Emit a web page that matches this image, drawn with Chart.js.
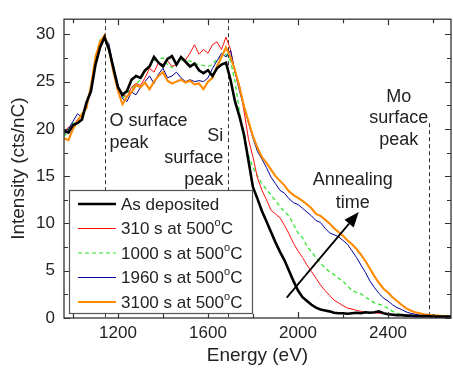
<!DOCTYPE html>
<html>
<head>
<meta charset="utf-8">
<script src="https://cdn.jsdelivr.net/npm/chart.js@4.4.1/dist/chart.umd.min.js"></script>
<style>
  html, body { margin: 0; padding: 0; background: #fff; }
  #wrap { width: 453px; height: 370px; }
</style>
</head>
<body>
<div id="wrap"><canvas id="chart" width="453" height="370"></canvas></div>
<script>
// Energy grid (eV)
const energy = [
  960, 980, 1000, 1020, 1040, 1060, 1080, 1100, 1120, 1140,
  1160, 1180, 1200, 1220, 1240, 1260, 1280, 1300, 1320, 1340,
  1360, 1380, 1400, 1420, 1440, 1460, 1480, 1500, 1520, 1540,
  1560, 1580, 1600, 1620, 1640, 1660, 1680, 1700, 1720, 1740,
  1760, 1780, 1800, 1820, 1840, 1860, 1880, 1900, 1920, 1940,
  1960, 1980, 2000, 2020, 2040, 2060, 2080, 2100, 2120, 2140,
  2160, 2180, 2200, 2220, 2240, 2260, 2280, 2300, 2320, 2340,
  2360, 2380, 2400, 2420, 2440, 2460, 2480, 2500, 2520, 2540,
  2560, 2580, 2600, 2620, 2640, 2660, 2680
];

// Intensity (cts/nC)
const asDeposited = [
  19.8, 19.6, 20.4, 20.6, 21.0, 22.8, 24.0, 26.8, 28.6, 29.7,
  28.4, 26.4, 24.4, 23.6, 24.0, 25.2, 25.6, 25.4, 26.2, 26.6,
  27.6, 27.0, 26.6, 27.4, 27.7, 26.8, 27.6, 27.1, 26.6, 26.9,
  26.2, 25.9, 26.2, 25.6, 26.4, 26.8, 27.0, 25.2, 22.9, 21.3,
  19.4, 16.6, 13.8, 12.6, 11.3, 10.2, 9.1, 8.0, 7.0, 6.1,
  5.0, 3.9, 2.9, 2.2, 1.8, 1.4, 1.1, 0.9, 0.8, 0.7,
  0.55, 0.5, 0.5, 0.45, 0.5, 0.55, 0.5, 0.6, 0.55, 0.6,
  0.7, 0.5, 0.4, 0.35, 0.3, 0.3, 0.25, 0.25, 0.2, 0.2,
  0.2, 0.2, 0.15, 0.15, 0.15, 0.15, 0.15
];
const anneal310 = [
  19.6, 20.2, 20.2, 21.0, 21.4, 22.6, 24.3, 27.2, 29.2, 29.6,
  28.6, 26.2, 24.0, 23.6, 23.4, 24.4, 24.8, 24.6, 25.4, 26.4,
  26.0, 27.0, 26.8, 27.2, 26.6, 26.8, 27.6, 27.3, 28.0, 28.9,
  27.9, 28.4, 28.0, 28.9, 29.2, 28.4, 29.7, 28.4, 26.0, 24.6,
  21.9, 18.9, 17.0, 14.8, 13.5, 12.5, 11.4, 11.0, 10.6, 9.8,
  8.9, 7.9, 7.1, 6.4, 5.6, 4.9, 4.2, 3.5, 2.9, 2.4,
  1.9, 1.6, 1.3, 1.05, 0.95, 0.8, 0.7, 0.6, 0.6, 0.55,
  0.5, 0.5, 0.45, 0.4, 0.35, 0.3, 0.3, 0.25, 0.25, 0.2,
  0.2, 0.2, 0.2, 0.15, 0.15, 0.15, 0.15
];
const anneal1000 = [
  19.2, 19.8, 20.6, 20.6, 21.2, 22.4, 24.4, 27.6, 29.4, 29.5,
  28.6, 26.6, 24.6, 23.2, 23.8, 24.2, 24.7, 25.2, 26.0, 26.6,
  27.2, 27.4, 27.5, 26.8, 26.5, 27.0, 27.3, 27.2, 27.2, 26.9,
  26.8, 26.7, 26.6, 26.8, 27.4, 27.6, 27.9, 27.2, 25.0, 21.8,
  18.8, 17.2, 15.9, 15.0, 14.2, 13.6, 13.0, 12.4, 11.8, 11.2,
  10.8, 9.9, 9.0, 8.5, 7.6, 7.0, 6.4, 5.8, 5.3, 4.9,
  4.6, 4.2, 3.9, 3.4, 2.9, 2.7, 2.55, 2.2, 1.9, 1.6,
  1.45, 1.3, 1.0, 0.7, 0.5, 0.35, 0.3, 0.25, 0.25, 0.2,
  0.2, 0.2, 0.2, 0.2, 0.15, 0.15, 0.15
];
const anneal1960 = [
  19.4, 20.0, 20.8, 21.6, 21.2, 22.6, 24.2, 27.0, 29.0, 29.6,
  29.0, 26.4, 24.6, 23.2, 22.9, 23.9, 23.6, 24.4, 25.0, 25.6,
  24.8, 25.8, 26.4, 25.4, 25.6, 26.0, 25.4, 25.0, 25.2, 25.0,
  25.1, 25.0, 25.4, 26.4, 27.2, 28.0, 27.6, 28.3, 26.0, 24.0,
  22.3, 20.6, 19.0, 17.6, 16.8, 15.9, 14.9, 14.2, 13.5, 13.2,
  12.6, 12.2, 12.0, 11.6, 11.2, 10.8, 10.3, 10.1, 9.5, 9.0,
  8.8, 8.6, 8.2, 7.8, 7.1, 6.4, 5.6, 4.8, 3.9, 3.2,
  2.6, 2.1, 1.8, 1.4, 1.1, 0.9, 0.65, 0.5, 0.4, 0.3,
  0.25, 0.2, 0.2, 0.2, 0.15, 0.15, 0.15
];
const anneal3100 = [
  19.0, 18.8, 20.0, 20.8, 21.6, 22.2, 24.6, 27.6, 29.2, 29.9,
  28.4, 26.0, 24.0, 22.6, 23.4, 23.9, 24.6, 24.4, 24.9, 24.2,
  25.0, 25.6, 26.0, 25.1, 24.8, 25.0, 25.2, 24.9, 25.1, 24.7,
  24.8, 24.2, 25.0, 25.4, 26.6, 27.6, 28.6, 27.6, 26.2, 24.4,
  22.4, 20.8, 19.2, 18.0, 17.0, 16.4, 15.7, 15.0, 14.5, 14.0,
  13.4, 13.0, 12.7, 12.4, 12.0, 11.6, 11.0, 10.8, 10.4, 10.0,
  9.5, 9.1, 8.7, 8.2, 7.8, 7.3, 6.7, 6.0, 5.2, 4.4,
  3.7, 3.1, 2.7, 2.2, 1.8, 1.4, 1.05, 0.8, 0.6, 0.5,
  0.4, 0.33, 0.3, 0.25, 0.2, 0.2, 0.2
];

const seriesLabels = ["As deposited", "310 s at 500°C", "1000 s at 500°C", "1960 s at 500°C", "3100 s at 500°C"];

// axis ticks
const xMajor = [1200, 1600, 2000, 2400];
const xMinor = [1000, 1400, 1800, 2200, 2600];
const yMajor = [0, 5, 10, 15, 20, 25, 30];
const yMinor = [2.5, 7.5, 12.5, 17.5, 22.5, 27.5];

// surface peak markers (eV)
const peakEnergies = [1140, 1690, 2580];

const FONT = "'Liberation Sans', Arial, sans-serif";
const INK = "#222";

const styles = [
  { color: "#000000", width: 2.6, dash: [], order: 0 },
  { color: "#ff1010", width: 1, dash: [], order: 3 },
  { color: "#22e622", width: 1.2, dash: [4, 3], order: 4 },
  { color: "#000099", width: 1, dash: [], order: 2 },
  { color: "#ff8a00", width: 2.1, dash: [], order: 1 },
];
const seriesData = [asDeposited, anneal310, anneal1000, anneal1960, anneal3100];

function drawLabel(ctx, text, x, y, size) {
  // renders "...°C" with a raised small "o"
  if (text.endsWith("°C")) {
    const main = text.slice(0, -2);
    ctx.font = size + "px " + FONT;
    ctx.fillText(main, x, y);
    let w = ctx.measureText(main).width;
    const sup = Math.round(size * 0.62);
    ctx.font = sup + "px " + FONT;
    ctx.fillText("o", x + w, y - size * 0.36);
    w += ctx.measureText("o").width;
    ctx.font = size + "px " + FONT;
    ctx.fillText("C", x + w, y);
  } else {
    ctx.font = size + "px " + FONT;
    ctx.fillText(text, x, y);
  }
}

const decor = {
  id: "decor",
  beforeDatasetsDraw(chart) {
    const { ctx, chartArea: a, scales: { x, y } } = chart;
    const tops = [y.max, y.max, 20.6];
    ctx.save();
    ctx.strokeStyle = "#333";
    ctx.lineWidth = 1;
    ctx.setLineDash([4, 3]);
    peakEnergies.forEach((e, i) => {
      const px = Math.round(x.getPixelForValue(e)) + 0.5;
      ctx.beginPath();
      ctx.moveTo(px, y.getPixelForValue(tops[i]));
      ctx.lineTo(px, a.bottom);
      ctx.stroke();
    });
    ctx.restore();
  },
  afterDatasetsDraw(chart) {
    const { ctx, chartArea: a, scales: { x, y } } = chart;
    ctx.save();

    // frame
    ctx.strokeStyle = "#333";
    ctx.lineWidth = 1.3;
    ctx.strokeRect(a.left, a.top, a.right - a.left, a.bottom - a.top);

    // inward ticks on all sides
    ctx.lineWidth = 1.2;
    ctx.beginPath();
    const xt = (vals, len) => vals.forEach(v => {
      const px = Math.round(x.getPixelForValue(v)) + 0.5;
      ctx.moveTo(px, a.bottom); ctx.lineTo(px, a.bottom - len);
      ctx.moveTo(px, a.top); ctx.lineTo(px, a.top + len);
    });
    const yt = (vals, len) => vals.forEach(v => {
      const py = Math.round(y.getPixelForValue(v)) + 0.5;
      ctx.moveTo(a.left, py); ctx.lineTo(a.left + len, py);
      ctx.moveTo(a.right, py); ctx.lineTo(a.right - len, py);
    });
    xt(xMajor, 6); xt(xMinor, 4);
    yt(yMajor, 6); yt(yMinor, 4);
    ctx.stroke();

    // annotations
    ctx.fillStyle = INK;
    ctx.textBaseline = "middle";
    ctx.font = "18px " + FONT;
    const X = v => x.getPixelForValue(v);
    const Y = v => y.getPixelForValue(v);
    ctx.textAlign = "left";
    ctx.fillText("O surface", X(1162), Y(20.8));
    ctx.fillText("peak", X(1162), Y(18.5));
    ctx.textAlign = "right";
    ctx.fillText("Si", X(1668), Y(19.2));
    ctx.fillText("surface", X(1668), Y(16.9));
    ctx.fillText("peak", X(1668), Y(14.6));
    ctx.textAlign = "center";
    ctx.fillText("Mo", X(2448), Y(23.4));
    ctx.fillText("surface", X(2448), Y(21.1));
    ctx.fillText("peak", X(2448), Y(18.8));
    ctx.fillText("Annealing", X(2243), Y(14.6));
    ctx.fillText("time", X(2243), Y(12.2));

    // arrow
    const x0 = X(1950), y0 = Y(2.15), x1 = X(2270), y1 = Y(11.2);
    const ang = Math.atan2(y1 - y0, x1 - x0);
    const hl = 15, hw = 6;
    ctx.strokeStyle = "#000";
    ctx.lineWidth = 1.8;
    ctx.beginPath();
    ctx.moveTo(x0, y0);
    ctx.lineTo(x1 - hl * Math.cos(ang), y1 - hl * Math.sin(ang));
    ctx.stroke();
    ctx.fillStyle = "#000";
    ctx.beginPath();
    ctx.moveTo(x1, y1);
    ctx.lineTo(x1 - hl * Math.cos(ang) + hw * Math.sin(ang), y1 - hl * Math.sin(ang) - hw * Math.cos(ang));
    ctx.lineTo(x1 - hl * Math.cos(ang) - hw * Math.sin(ang), y1 - hl * Math.sin(ang) + hw * Math.cos(ang));
    ctx.closePath();
    ctx.fill();

    // legend box
    const lx = a.left + 5, ly = 190, lw = 183, lh = 123;
    ctx.fillStyle = "#fff";
    ctx.fillRect(lx, ly, lw, lh);
    ctx.strokeStyle = "#555";
    ctx.lineWidth = 1.2;
    ctx.strokeRect(lx + 0.5, ly + 0.5, lw, lh);
    ctx.textAlign = "left";
    seriesLabels.forEach((lab, i) => {
      const cy = ly + 14 + i * 24.5;
      const s = styles[i];
      ctx.strokeStyle = s.color;
      ctx.lineWidth = s.width;
      ctx.setLineDash(s.dash);
      ctx.beginPath();
      ctx.moveTo(lx + 9, cy); ctx.lineTo(lx + 47, cy);
      ctx.stroke();
      ctx.setLineDash([]);
      ctx.fillStyle = INK;
      drawLabel(ctx, lab, lx + 52, cy + 1, 17);
    });
    ctx.restore();
  }
};

const ctx = document.getElementById("chart");
new Chart(ctx, {
  type: "line",
  data: {
    labels: energy,
    datasets: seriesData.map((vals, i) => ({
      label: seriesLabels[i],
      data: vals.map((v, k) => ({ x: energy[k], y: v })),
      borderColor: styles[i].color,
      borderWidth: styles[i].width,
      borderDash: styles[i].dash,
      order: styles[i].order,
      pointRadius: 0,
      tension: 0,
      fill: false,
    }))
  },
  options: {
    responsive: false,
    animation: false,
    devicePixelRatio: 1,
    layout: { padding: { top: 6, right: 2, left: 0, bottom: 0 } },
    plugins: { legend: { display: false }, tooltip: { enabled: false } },
    scales: {
      x: {
        type: "linear",
        min: 960,
        max: 2680,
        afterBuildTicks: s => { s.ticks = xMajor.map(v => ({ value: v })); },
        afterFit: s => { s.height = 52; },
        grid: { display: false, drawTicks: false },
        border: { display: false },
        ticks: { padding: 5, color: INK, maxRotation: 0, autoSkip: false, font: { family: FONT, size: 17 }, callback: v => String(v) },
        title: { display: true, text: "Energy (eV)", color: INK, font: { family: FONT, size: 19 }, padding: { top: 0, bottom: 3 } }
      },
      y: {
        min: 0,
        max: 31.6,
        afterBuildTicks: s => { s.ticks = yMajor.map(v => ({ value: v })); },
        afterFit: s => { s.width = 64; },
        grid: { display: false, drawTicks: false },
        border: { display: false },
        ticks: { padding: 9, color: INK, font: { family: FONT, size: 17 }, callback: v => String(v) },
        title: { display: true, text: "Intensity (cts/nC)", color: INK, font: { family: FONT, size: 19 }, padding: { top: 7, bottom: 0 } }
      }
    }
  },
  plugins: [decor]
});
</script>
</body>
</html>
